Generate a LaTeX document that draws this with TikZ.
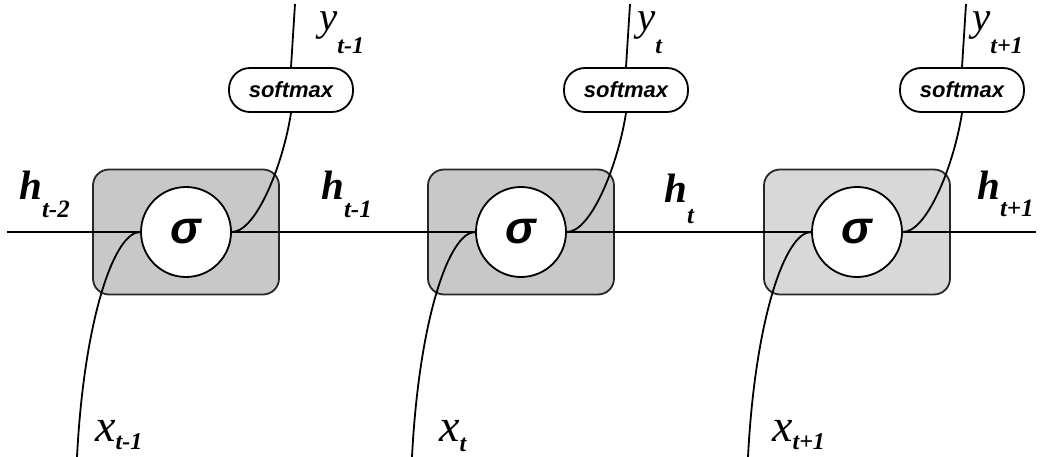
\documentclass[tikz,border=0pt]{standalone}
\usepackage{fontspec}
\setmainfont{Liberation Serif}
\newfontfamily\sansf{Liberation Sans}
\newcommand\Hl[2]{{\fontsize{41}{41}\selectfont\bfseries\itshape h}\raisebox{#1}{\fontsize{25}{25}\selectfont\bfseries\itshape #2}}
\newcommand\Yl[2]{{\fontsize{41}{41}\selectfont\itshape y}\raisebox{#1}{\fontsize{24}{24}\selectfont\bfseries\itshape #2}}
\newcommand\Xl[2]{{\fontsize{46}{46}\selectfont\itshape x}\raisebox{#1}{\fontsize{24}{24}\selectfont\bfseries\itshape #2}}
\tikzset{
  cell/.style={draw=black!85, line width=1.8pt, rounded corners=16pt, minimum width=186pt, minimum height=125pt, inner sep=0pt},
  gate/.style={circle, draw=black, fill=white, line width=1.8pt, minimum size=90pt, inner sep=0pt, font=\sansf\bfseries\itshape\fontsize{46}{46}\selectfont},
  smax/.style={draw=black, fill=white, line width=1.8pt, rounded corners=21pt, minimum width=124pt, minimum height=44pt, inner sep=0pt, font=\sansf\bfseries\itshape\fontsize{22}{22}\selectfont},
  wire/.style={line width=1.8pt, draw=black},
  lbl/.style={inner sep=0pt, anchor=base west},
  ylbl/.style={lbl, text height=19pt},
}
\begin{document}
\begin{tikzpicture}[x=1pt, y=-1pt]
\useasboundingbox (0,0) rectangle (1046,457);
\foreach \i/\c/\f in {1/186/200, 2/521/200, 3/857/216}{
  \definecolor{cf\i}{RGB}{\f,\f,\f}
  \node[cell, fill=cf\i] (cell\i) at (\c,232) {};
  \node[gate] (g\i) at (\c,232) {σ};
  \node[smax] (sm\i) at (\c+105,90) {softmax};
  \coordinate (xin\i) at (\c-109,457);
  \coordinate (yout\i) at (\c+109,4);
  \draw[wire] (xin\i) .. controls (\c-102,320) and (\c-72,232) .. (g\i.west);
  \draw[wire] (g\i.east) .. controls (\c+70,232) and (\c+97,165) .. (sm\i.south);
  \draw[wire] (sm\i.north) -- (yout\i);
}
\coordinate (hin) at (7,232);
\coordinate (hout) at (1036,232);
\draw[wire] (hin) -- (g1.west);
\draw[wire] (g1.east) -- (g2.west);
\draw[wire] (g2.east) -- (g3.west);
\draw[wire] (g3.east) -- (hout);
\node[lbl] (lh0) at (19,200) {\Hl{-18pt}{t-2}};
\node[lbl] (lh1) at (321,200) {\Hl{-18pt}{t-1}};
\node[lbl] (lh2) at (664,202) {\Hl{-21pt}{t}};
\node[lbl] (lh3) at (977,200) {\Hl{-17pt}{t+1}};
\node[ylbl] (ly1) at (319,31) {\Yl{-23pt}{t-1}};
\node[ylbl] (ly2) at (637,31) {\Yl{-23pt}{t}};
\node[ylbl] (ly3) at (972,31) {\Yl{-23pt}{t+1}};
\node[lbl] (lx1) at (95,441) {\Xl{-8pt}{t-1}};
\node[lbl] (lx2) at (439,441) {\Xl{-10pt}{t}};
\node[lbl] (lx3) at (772,441) {\Xl{-8pt}{t+1}};
\end{tikzpicture}
\end{document}
